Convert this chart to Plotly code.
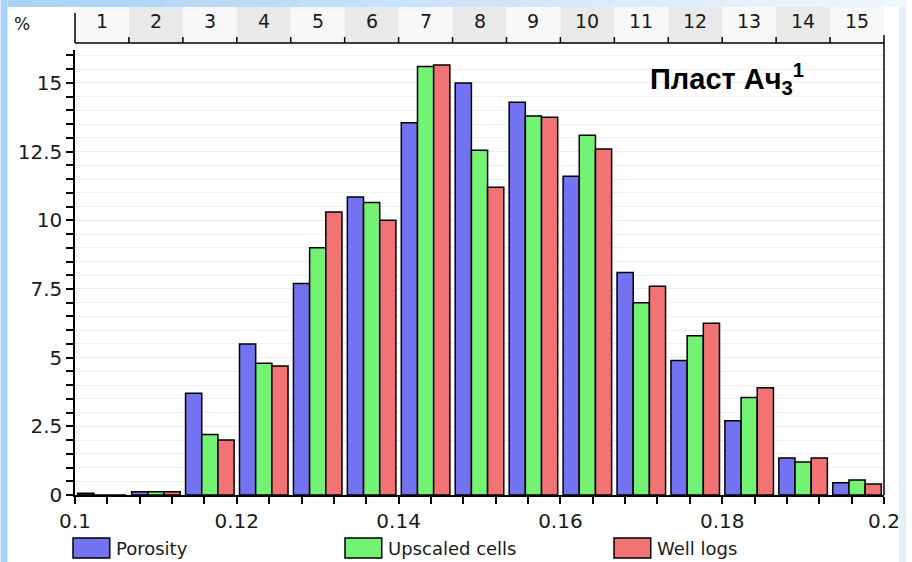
import plotly.graph_objects as go

# Histogram of porosity: 15 equal bins between 0.1 and 0.2, percent of samples
bin_labels = [str(i) for i in range(1, 16)]
porosity = [0.06, 0.12, 3.7, 5.5, 7.7, 10.85, 13.55, 15.0, 14.3, 11.6, 8.1, 4.9, 2.7, 1.35, 0.45]
upscaled = [0.0, 0.12, 2.2, 4.8, 9.0, 10.65, 15.6, 12.55, 13.8, 13.1, 7.0, 5.8, 3.55, 1.2, 0.55]
well_logs = [0.0, 0.12, 2.0, 4.7, 10.3, 10.0, 15.65, 11.2, 13.75, 12.6, 7.6, 6.25, 3.9, 1.35, 0.4]
series_names = ["Porosity", "Upscaled cells", "Well logs"]
series_colors = ["#7373f2", "#73f273", "#f27373"]
x_ticks = [0.1, 0.12, 0.14, 0.16, 0.18, 0.2]
x_ticktext = ["0.1", "0.12", "0.14", "0.16", "0.18", "0.2"]
y_ticks = [0, 2.5, 5, 7.5, 10, 12.5, 15]
y_ticktext = ["0", "2.5", "5", "7.5", "10", "12.5", "15"]

x_min, x_max = 0.1, 0.2
n_bins = len(bin_labels)
bin_w = (x_max - x_min) / n_bins
centers = [x_min + (i + 0.5) * bin_w for i in range(n_bins)]
edges = [x_min + i * bin_w for i in range(n_bins + 1)]

W, H = 912, 562
L, R, T, B = 75, 22, 50, 67
PW, PH = W - L - R, H - T - B


def px(xpix):
    return (xpix - L) / PW


def py(ypix):
    return (H - B - ypix) / PH


FONT = "DejaVu Sans"
TXT = "#1a1a1a"

fig = go.Figure()
for name, vals, col in zip(series_names, [porosity, upscaled, well_logs], series_colors):
    fig.add_trace(go.Bar(
        x=centers, y=vals, name=name,
        marker=dict(color=col, line=dict(color="black", width=1.5)),
        showlegend=False,
    ))

shapes = []
annotations = []

# light-blue frame strips
shapes.append(dict(type="rect", xref="paper", yref="paper", x0=px(0), x1=px(7),
                   y0=py(H), y1=py(0), fillcolor="#a9d3f6", line=dict(width=0), layer="below"))
n_seg = 40
for k in range(n_seg):
    t = k / (n_seg - 1)
    r = int(169 + (240 - 169) * t)
    g = int(211 + (247 - 211) * t)
    b = int(246 + (253 - 246) * t)
    shapes.append(dict(type="rect", xref="paper", yref="paper",
                       x0=px(7 + k * (W - 7) / n_seg), x1=px(7 + (k + 1) * (W - 7) / n_seg + 1),
                       y0=py(7), y1=py(0), fillcolor=f"rgb({r},{g},{b})",
                       line=dict(width=0), layer="below"))
shapes.append(dict(type="rect", xref="paper", yref="paper", x0=px(905), x1=px(W),
                   y0=py(H), y1=py(7), fillcolor="#e3f0fb", line=dict(width=0), layer="below"))

# bin-number band along the top
for i in range(n_bins):
    shapes.append(dict(type="rect", xref="x", yref="paper", x0=edges[i], x1=edges[i + 1],
                       y0=py(43), y1=py(7),
                       fillcolor="#e9e9e9" if i % 2 == 1 else "#f8f8f8",
                       line=dict(width=0), layer="below"))
    annotations.append(dict(x=centers[i], y=py(21), xref="x", yref="paper", text=bin_labels[i],
                            yanchor="middle", showarrow=False,
                            font=dict(family=FONT, size=19, color=TXT)))
for e in edges[1:-1]:
    shapes.append(dict(type="line", xref="x", yref="paper", x0=e, x1=e, y0=py(43), y1=py(37),
                       line=dict(color="black", width=1.5)))
shapes.append(dict(type="line", xref="paper", yref="paper", x0=0, x1=1, y0=py(43), y1=py(43),
                   line=dict(color="black", width=1.5)))
shapes.append(dict(type="line", xref="paper", yref="paper", x0=0, x1=0, y0=py(43), y1=py(13),
                   line=dict(color="black", width=1.5)))
shapes.append(dict(type="line", xref="paper", yref="paper", x0=1, x1=1, y0=0, y1=py(35),
                   line=dict(color="black", width=1.5)))

annotations.append(dict(x=px(12), y=py(24), xref="paper", yref="paper", text="%",
                        xanchor="left", yanchor="middle", showarrow=False,
                        font=dict(family=FONT, size=17, color=TXT)))

# layer title
annotations.append(dict(x=px(652), y=py(79), xref="paper", yref="paper", xanchor="left",
                        yanchor="middle",
                        text="<b>Пласт Ач<sub>3</sub><sup>1</sup></b>", showarrow=False,
                        font=dict(family="Liberation Sans", size=29, color="black")))

# legend row
legend_x = [73, 347, 618]
for x0, name, col in zip(legend_x, series_names, series_colors):
    shapes.append(dict(type="rect", xref="paper", yref="paper", x0=px(x0), x1=px(x0 + 37),
                       y0=py(558), y1=py(538), fillcolor=col, line=dict(color="black", width=1.5)))
    annotations.append(dict(x=px(x0 + 41), y=py(548), xref="paper", yref="paper", xanchor="left",
                            yanchor="middle", text=name, showarrow=False,
                            font=dict(family=FONT, size=18, color=TXT)))

fig.update_layout(
    width=W, height=H,
    margin=dict(l=L, r=R, t=T, b=B, pad=0),
    paper_bgcolor="white", plot_bgcolor="white",
    barmode="group", bargap=0.1, bargroupgap=0.0,
    shapes=shapes, annotations=annotations,
    xaxis=dict(range=[x_min, x_max], tickvals=x_ticks, ticktext=x_ticktext,
               showgrid=False, zeroline=False, showline=True, linecolor="black", linewidth=1.5,
               ticks="outside", ticklen=7, tickwidth=1.5, tickcolor="black",
               minor=dict(dtick=0.004, tick0=0.1, ticks="outside", ticklen=7, tickwidth=1.5,
                          tickcolor="black", showgrid=False),
               tickfont=dict(family=FONT, size=20, color=TXT)),
    yaxis=dict(range=[0, 16.2], tickvals=y_ticks, ticktext=y_ticktext,
               showgrid=True, gridcolor="#ececec", gridwidth=1, zeroline=False,
               showline=True, linecolor="black", linewidth=1.5,
               ticks="outside", ticklen=7, tickwidth=1.5, tickcolor="black",
               minor=dict(dtick=0.5, tick0=0, ticks="outside", ticklen=7, tickwidth=1.5,
                          tickcolor="black", showgrid=True, gridcolor="#efefef", gridwidth=1),
               tickfont=dict(family=FONT, size=20, color=TXT)),
)

fig.write_html("out.html")
